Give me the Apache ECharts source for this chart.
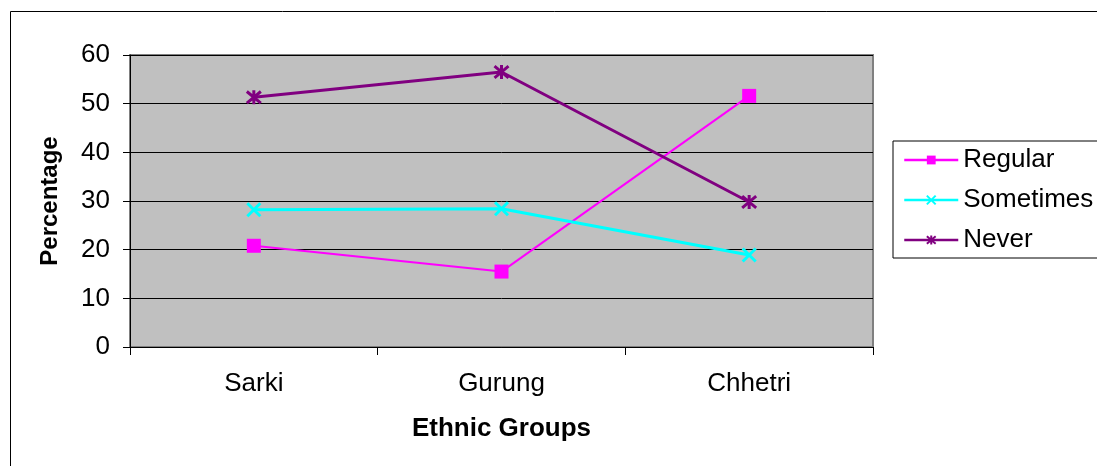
<!DOCTYPE html>
<html>
<head>
<meta charset="utf-8">
<script src="https://cdn.jsdelivr.net/npm/echarts@6/dist/echarts.min.js"></script>
<style>
  html, body { margin: 0; padding: 0; background: #fff; }
  #chart { width: 1097px; height: 466px; }
</style>
</head>
<body>
<div id="chart"></div>
<script>
// Attendance by ethnic group (percent of respondents)
const categories = ['Sarki', 'Gurung', 'Chhetri'];
const regular = [20.8, 15.5, 51.6];
const sometimes = [28.2, 28.4, 18.9];
const never = [51.3, 56.5, 29.8];
const yTicks = { min: 0, max: 60, interval: 10 };

const FONT = '"Liberation Sans", Arial, sans-serif';

// Marker outlines: a diagonal cross and an asterisk
const crossPath = 'path://M0,0L10,10M10,0L0,10';
const starPath = 'path://M0,0L10,10M10,0L0,10M5,-1L5,11';

const chart = echarts.init(document.getElementById('chart'), null, { renderer: 'canvas' });

chart.setOption({
  animation: false,
  backgroundColor: '#ffffff',
  textStyle: { fontFamily: FONT },
  graphic: [{
    type: 'rect',
    shape: { x: 10.5, y: 11.5, width: 1200, height: 600 },
    style: { fill: 'none', stroke: '#000', lineWidth: 1 },
    z: -1
  }],
  grid: {
    left: 130, top: 55, right: 224, bottom: 119,
    show: true,
    backgroundColor: '#C0C0C0',
    borderColor: '#808080',
    borderWidth: 2
  },
  legend: {
    left: 893, top: 141,
    orient: 'vertical',
    padding: [5, 20, 4, 10],
    itemGap: 12,
    itemWidth: 54,
    itemHeight: 11,
    borderColor: '#000',
    borderWidth: 1,
    backgroundColor: '#fff',
    lineStyle: { width: 2.5 },
    textStyle: { fontSize: 26, color: '#000', fontFamily: FONT, lineHeight: 28 },
    data: ['Regular', 'Sometimes', 'Never']
  },
  xAxis: {
    type: 'category',
    data: categories,
    boundaryGap: true,
    name: 'Ethnic Groups',
    nameLocation: 'middle',
    nameGap: 69,
    nameTextStyle: { fontSize: 26, fontWeight: 'bold', color: '#000', fontFamily: FONT },
    axisLine: { show: true, lineStyle: { color: '#000', width: 1 } },
    axisTick: { show: true, length: 8, alignWithLabel: false, lineStyle: { color: '#000' } },
    axisLabel: { fontSize: 26, color: '#000', margin: 24, fontFamily: FONT },
    splitLine: { show: false }
  },
  yAxis: {
    type: 'value',
    min: yTicks.min, max: yTicks.max, interval: yTicks.interval,
    name: 'Percentage',
    nameLocation: 'middle',
    nameGap: 68,
    nameRotate: 90,
    nameTextStyle: { fontSize: 24, fontWeight: 'bold', color: '#000', fontFamily: FONT },
    axisLine: { show: true, lineStyle: { color: '#000', width: 1 } },
    axisTick: { show: true, length: 7, lineStyle: { color: '#000' } },
    axisLabel: { fontSize: 26, color: '#000', margin: 20, fontFamily: FONT },
    splitLine: { show: true, lineStyle: { color: '#000', width: 1 } }
  },
  series: [
    {
      name: 'Regular', type: 'line', data: regular,
      symbol: 'rect', symbolSize: 14,
      lineStyle: { color: '#FF00FF', width: 2 },
      itemStyle: { color: '#FF00FF' }
    },
    {
      name: 'Sometimes', type: 'line', data: sometimes,
      symbol: crossPath, symbolSize: 13,
      lineStyle: { color: '#00FFFF', width: 3 },
      itemStyle: { color: '#00FFFF', borderColor: '#00FFFF', borderWidth: 3 }
    },
    {
      name: 'Never', type: 'line', data: never,
      symbol: starPath, symbolSize: 14,
      lineStyle: { color: '#800080', width: 3 },
      itemStyle: { color: '#800080', borderColor: '#800080', borderWidth: 3 }
    }
  ]
});
</script>
</body>
</html>
